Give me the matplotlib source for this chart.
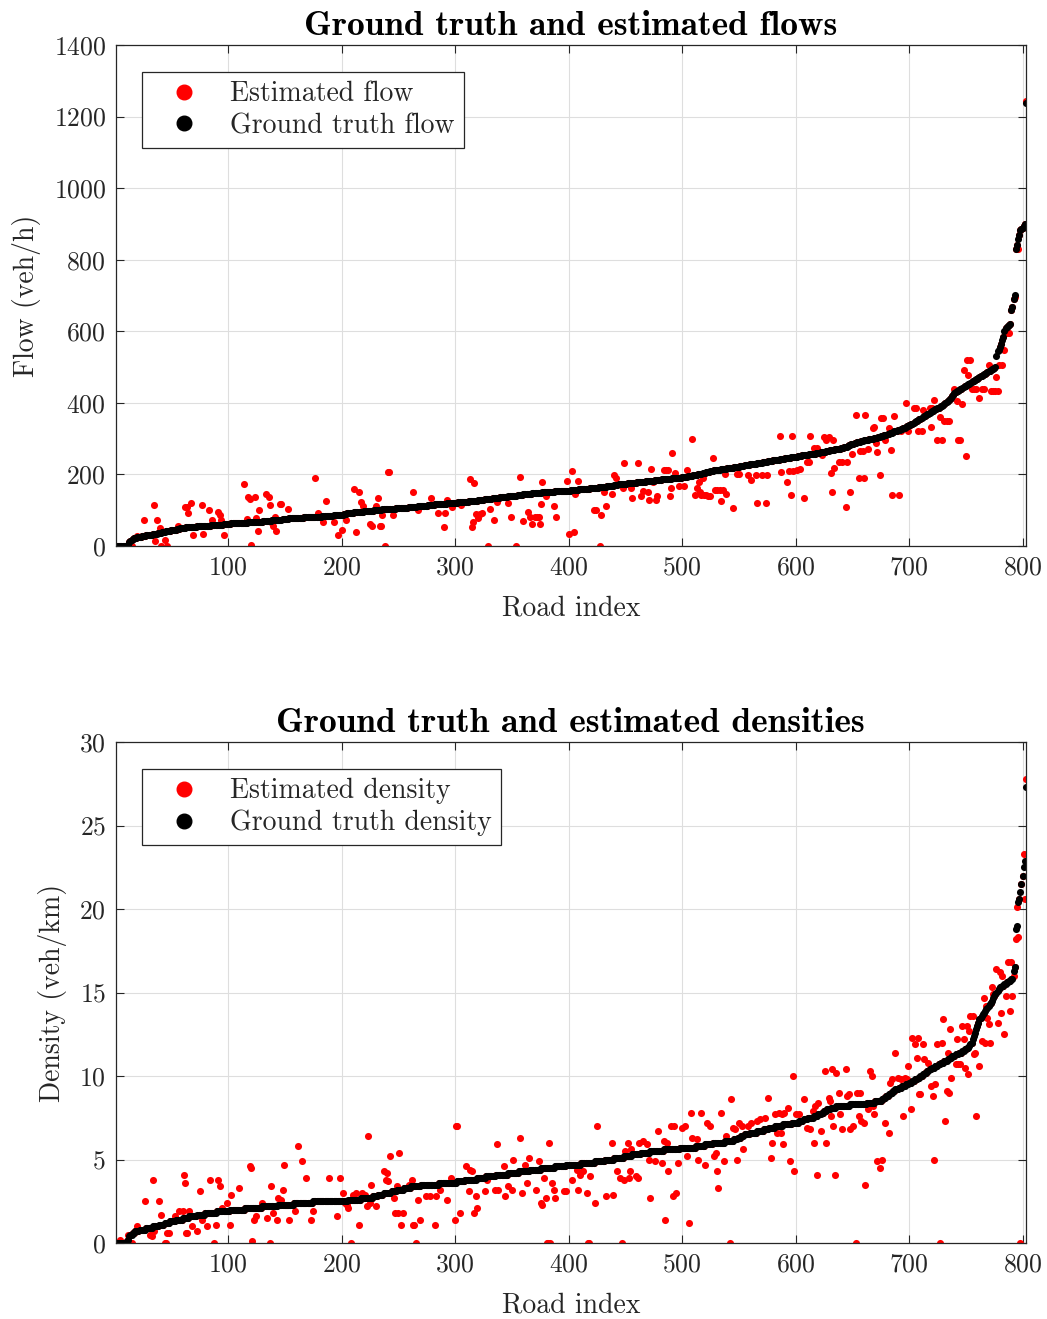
import numpy as np
import matplotlib
matplotlib.use("Agg")
import matplotlib.pyplot as plt
from matplotlib.lines import Line2D

plt.rcParams["font.family"] = ["cmr10", "DejaVu Sans"]
plt.rcParams["mathtext.fontset"] = "cm"
plt.rcParams["axes.formatter.use_mathtext"] = True

# ---------------- data ----------------
flow_gt = [
    0,0,0,0,0,0,0,0,0,0,0,4,10,14,17,19,21,22,23,24,
    25,25,26,27,28,28,29,30,30,31,31,32,32,33,33,34,34,35,35,36,
    37,38,39,40,41,42,42,43,43,44,45,45,46,46,47,48,48,49,50,50,
    51,51,52,52,52,53,53,53,54,54,54,54,55,55,55,55,55,56,56,56,
    56,57,57,57,58,58,58,58,59,59,59,60,60,60,60,61,61,61,62,62,
    62,62,63,63,63,63,64,64,64,64,64,65,65,65,65,65,65,66,66,66,
    66,66,66,66,67,67,67,68,68,68,69,69,69,70,70,70,71,71,72,72,
    72,73,73,73,74,74,74,75,75,75,76,76,76,77,77,77,78,78,78,78,
    78,79,79,79,79,79,80,80,80,80,80,80,80,81,81,81,81,81,82,82,
    82,82,83,83,83,84,84,84,84,85,85,85,86,86,86,86,87,87,87,88,
    88,89,89,90,91,91,92,92,93,93,94,94,94,95,95,95,96,96,96,97,
    97,97,98,98,98,99,99,99,100,100,100,100,101,101,101,102,102,102,102,103,
    103,103,103,104,104,104,104,105,105,105,105,106,106,106,106,107,107,107,108,108,
    108,109,109,110,110,110,111,111,111,112,112,112,113,113,113,114,114,114,115,115,
    115,116,116,116,117,117,117,117,118,118,118,118,119,119,119,120,120,120,120,121,
    121,121,122,122,122,123,123,123,124,124,124,125,125,125,126,126,126,127,127,128,
    128,128,129,129,129,130,130,131,131,132,132,132,133,133,134,134,135,135,135,136,
    136,137,137,137,138,138,139,139,139,140,140,141,141,141,142,142,143,143,143,144,
    144,144,145,145,146,146,146,147,147,147,148,148,148,149,149,149,150,150,150,151,
    151,151,151,152,152,152,152,153,153,153,153,154,154,154,154,154,155,155,155,155,
    155,156,156,156,157,157,157,157,158,158,158,159,159,159,159,160,160,160,161,161,
    161,162,162,163,163,163,164,164,165,165,166,166,166,167,167,168,168,169,169,170,
    170,170,171,172,172,172,173,173,173,174,174,175,175,175,176,176,177,177,177,178,
    178,178,179,179,180,180,180,181,181,182,182,182,183,183,183,184,184,184,185,185,
    185,186,186,186,187,187,187,188,188,188,189,189,189,190,190,190,191,191,191,192,
    192,193,193,194,195,195,196,196,197,198,198,199,199,200,200,201,202,203,204,205,
    206,207,208,208,209,210,210,211,211,212,212,213,213,214,214,215,215,216,216,217,
    217,218,218,219,219,220,220,221,221,222,223,223,224,224,225,225,226,227,227,228,
    228,229,229,230,230,231,232,232,233,233,234,234,235,236,236,237,237,238,238,239,
    239,240,240,241,241,242,243,243,244,244,245,245,246,246,247,248,248,249,249,250,
    250,251,251,252,252,253,253,254,254,255,255,256,256,257,257,258,258,259,260,261,
    261,262,262,263,264,264,265,266,266,267,267,268,269,269,270,270,271,272,272,273,
    274,275,276,277,278,280,281,282,284,285,286,288,289,290,291,292,292,293,294,295,
    295,296,297,297,298,299,300,300,301,302,303,303,304,305,306,307,308,309,310,311,
    312,313,315,316,317,319,320,321,322,323,324,325,326,328,329,331,333,334,336,338,
    339,341,342,344,346,348,350,352,354,356,358,360,362,364,366,368,370,373,375,377,
    378,380,382,384,385,387,389,390,392,395,397,400,402,405,407,410,414,418,423,428,
    430,432,434,436,438,440,442,444,446,447,449,452,454,456,458,460,462,464,466,468,
    470,472,474,476,478,480,482,484,486,488,490,492,494,496,498,500,530,545,548,555,
    565,575,585,600,610,613,615,617,620,660,668,690,700,830,840,858,870,882,886,888,
    893,900,1238,
]

# estimated flows that differ visibly from the ground truth: (road index, flow)
flow_est_points = [
    (15,0),(20,29),(26,73),(35,114),(36,15),(37,73),(40,51),(41,0),(44,17),(46,0),
    (56,56),(62,108),(64,108),(65,91),(67,121),(69,31),(77,115),(78,33),(83,101),(86,73),
    (91,96),(93,87),(94,73),(96,30),(114,173),(117,76),(118,138),(119,131),(120,2),(124,138),
    (125,77),(126,41),(127,101),(133,145),(136,138),(137,115),(138,68),(140,56),(141,80),(142,43),
    (146,117),(147,117),(153,103),(177,191),(179,91),(184,68),(186,127),(193,68),(197,31),(200,44),
    (204,73),(211,158),(213,38),(215,151),(217,123),(219,112),(225,61),(227,55),(230,112),(232,134),
    (234,55),(235,55),(236,86),(238,0),(241,208),(242,208),(245,88),(263,150),(267,101),(279,133),
    (285,91),(290,52),(291,91),(293,128),(297,108),(305,115),(313,187),(315,54),(316,67),(317,177),
    (318,90),(320,77),(322,89),(324,91),(329,0),(331,103),(334,73),(337,122),(347,119),(349,80),
    (354,0),(357,192),(360,71),(364,96),(366,82),(368,61),(370,82),(372,82),(374,82),(375,61),
    (376,117),(377,178),(380,140),(387,113),(389,80),(399,182),(400,33),(403,210),(405,40),(406,145),
    (408,182),(422,101),(424,101),(428,0),(429,87),(431,152),(433,112),(438,145),(440,198),(442,190),
    (448,163),(449,233),(455,163),(456,133),(461,233),(464,139),(466,154),(470,150),(471,128),(473,215),
    (474,179),(477,128),(478,139),(484,212),(486,212),(488,212),(489,139),(490,161),(491,259),(494,205),
    (497,167),(502,167),(504,212),(509,298),(511,143),(513,161),(515,180),(516,152),(517,143),(518,189),
    (519,143),(521,143),(523,140),(525,140),(527,245),(529,156),(531,156),(533,156),(534,126),(536,156),
    (538,200),(539,145),(545,105),(548,200),(550,200),(558,198),(561,184),(565,198),(566,121),(570,198),
    (574,121),(575,198),(586,307),(587,208),(592,180),(594,210),(596,142),(597,307),(598,210),(601,213),
    (604,215),(607,135),(610,235),(612,235),(613,307),(616,273),(619,273),(623,254),(625,305),(627,296),
    (629,305),(631,204),(632,152),(633,296),(634,218),(638,236),(641,236),(644,110),(645,236),(648,152),
    (650,257),(653,366),(656,189),(657,266),(659,266),(660,189),(661,366),(664,270),(668,330),(669,332),
    (671,287),(672,264),(674,198),(675,357),(677,357),(679,296),(682,330),(684,267),(685,142),(687,363),
    (691,142),(693,320),(697,400),(699,320),(704,385),(706,385),(708,320),(711,320),(712,380),(718,385),
    (719,333),(720,385),(722,408),(725,296),(727,360),(729,296),(731,350),(733,350),(735,350),(740,440),
    (742,405),(743,296),(745,296),(747,398),(748,492),(750,252),(751,520),(752,478),(754,520),(755,440),
    (757,440),(759,440),(762,414),(764,440),(766,440),(770,506),(772,434),(774,434),(776,434),(777,473),
    (778,434),(779,505),(782,505),(784,548),(786,594),(788,594),(793,697),(796,830),(799,885),(803,1243),
]

density_gt = [
    0,0,0,0,0,0,0,0,0,0,0.1,0.2,0.4,0.5,0.5,0.6,0.6,0.7,0.7,0.7,
    0.7,0.8,0.8,0.8,0.8,0.8,0.8,0.9,0.9,0.9,0.9,0.9,0.9,1.0,1.0,1.0,1.0,1.0,1.1,1.1,
    1.1,1.1,1.1,1.2,1.2,1.2,1.2,1.2,1.3,1.3,1.3,1.3,1.3,1.4,1.4,1.4,1.4,1.4,1.4,1.5,
    1.5,1.5,1.5,1.5,1.5,1.6,1.6,1.6,1.6,1.6,1.6,1.6,1.7,1.7,1.7,1.7,1.7,1.7,1.7,1.8,
    1.8,1.8,1.8,1.8,1.8,1.8,1.8,1.8,1.8,1.9,1.9,1.9,1.9,1.9,1.9,1.9,1.9,1.9,1.9,1.9,
    1.9,2.0,2.0,2.0,2.0,2.0,2.0,2.0,2.0,2.0,2.0,2.0,2.0,2.0,2.1,2.1,2.1,2.1,2.1,2.1,
    2.1,2.1,2.1,2.1,2.1,2.1,2.1,2.1,2.1,2.2,2.2,2.2,2.2,2.2,2.2,2.2,2.2,2.2,2.2,2.2,
    2.2,2.2,2.2,2.3,2.3,2.3,2.3,2.3,2.3,2.3,2.3,2.3,2.3,2.3,2.3,2.3,2.3,2.4,2.4,2.4,
    2.4,2.4,2.4,2.4,2.4,2.4,2.4,2.4,2.4,2.4,2.4,2.4,2.4,2.4,2.5,2.5,2.5,2.5,2.5,2.5,
    2.5,2.5,2.5,2.5,2.5,2.5,2.5,2.5,2.5,2.5,2.5,2.5,2.5,2.5,2.5,2.5,2.5,2.5,2.5,2.5,
    2.5,2.5,2.5,2.5,2.5,2.6,2.6,2.6,2.6,2.6,2.6,2.6,2.6,2.6,2.6,2.6,2.7,2.7,2.7,2.7,
    2.7,2.7,2.7,2.7,2.7,2.7,2.7,2.8,2.8,2.8,2.8,2.9,2.9,2.9,2.9,2.9,3.0,3.0,3.0,3.0,
    3.0,3.0,3.0,3.1,3.1,3.1,3.1,3.1,3.2,3.2,3.2,3.2,3.2,3.2,3.3,3.3,3.3,3.3,3.3,3.3,
    3.4,3.4,3.4,3.4,3.4,3.4,3.4,3.4,3.4,3.5,3.5,3.5,3.5,3.5,3.5,3.5,3.5,3.5,3.5,3.5,
    3.5,3.5,3.5,3.5,3.5,3.6,3.6,3.6,3.6,3.6,3.6,3.6,3.6,3.6,3.6,3.6,3.6,3.6,3.6,3.6,
    3.6,3.7,3.7,3.7,3.7,3.7,3.7,3.7,3.8,3.8,3.8,3.8,3.8,3.8,3.8,3.8,3.8,3.8,3.9,3.9,
    3.9,3.9,3.9,3.9,3.9,3.9,4.0,4.0,4.0,4.0,4.0,4.0,4.0,4.0,4.0,4.1,4.1,4.1,4.1,4.1,
    4.1,4.1,4.1,4.1,4.1,4.1,4.2,4.2,4.2,4.2,4.2,4.2,4.2,4.2,4.2,4.3,4.3,4.3,4.3,4.3,
    4.3,4.3,4.3,4.3,4.3,4.4,4.4,4.4,4.4,4.4,4.4,4.4,4.4,4.4,4.4,4.5,4.5,4.5,4.5,4.5,
    4.5,4.5,4.5,4.5,4.5,4.5,4.5,4.6,4.6,4.6,4.6,4.6,4.6,4.6,4.6,4.6,4.6,4.7,4.7,4.7,
    4.7,4.7,4.7,4.7,4.7,4.7,4.7,4.7,4.7,4.7,4.8,4.8,4.8,4.8,4.8,4.8,4.8,4.8,4.8,4.8,
    4.8,4.8,4.9,4.9,4.9,4.9,4.9,4.9,4.9,4.9,4.9,5.0,5.0,5.0,5.0,5.0,5.0,5.0,5.0,5.1,
    5.1,5.1,5.1,5.1,5.1,5.1,5.1,5.1,5.2,5.2,5.2,5.2,5.2,5.2,5.2,5.3,5.3,5.3,5.3,5.3,
    5.3,5.3,5.3,5.4,5.4,5.4,5.4,5.4,5.4,5.4,5.4,5.5,5.5,5.5,5.5,5.5,5.5,5.5,5.5,5.5,
    5.5,5.5,5.5,5.6,5.6,5.6,5.6,5.6,5.6,5.6,5.6,5.6,5.6,5.6,5.6,5.6,5.6,5.7,5.7,5.7,
    5.7,5.7,5.7,5.7,5.7,5.7,5.7,5.7,5.7,5.7,5.7,5.8,5.8,5.8,5.8,5.8,5.8,5.8,5.8,5.9,
    5.9,5.9,5.9,5.9,5.9,5.9,6.0,6.0,6.0,6.0,6.0,6.0,6.0,6.0,6.0,6.0,6.0,6.1,6.1,6.1,
    6.1,6.1,6.1,6.1,6.1,6.2,6.2,6.2,6.3,6.3,6.3,6.4,6.4,6.4,6.5,6.5,6.5,6.5,6.5,6.6,
    6.6,6.6,6.6,6.6,6.6,6.7,6.7,6.7,6.7,6.7,6.7,6.8,6.8,6.8,6.8,6.8,6.9,6.9,6.9,6.9,
    6.9,7.0,7.0,7.0,7.0,7.0,7.0,7.0,7.1,7.1,7.1,7.1,7.1,7.1,7.1,7.1,7.2,7.2,7.2,7.2,
    7.2,7.2,7.3,7.3,7.3,7.3,7.4,7.4,7.4,7.4,7.5,7.5,7.5,7.5,7.5,7.6,7.6,7.6,7.6,7.7,
    7.7,7.7,7.8,7.8,7.9,7.9,7.9,8.0,8.0,8.0,8.1,8.1,8.1,8.1,8.1,8.2,8.2,8.2,8.2,8.2,
    8.2,8.2,8.2,8.2,8.2,8.2,8.2,8.3,8.3,8.3,8.3,8.3,8.3,8.3,8.3,8.3,8.3,8.3,8.3,8.3,
    8.3,8.3,8.4,8.4,8.4,8.4,8.4,8.4,8.4,8.5,8.5,8.5,8.5,8.5,8.5,8.6,8.6,8.7,8.7,8.8,
    8.8,8.9,8.9,9.0,9.0,9.1,9.1,9.2,9.2,9.2,9.3,9.3,9.3,9.4,9.4,9.4,9.5,9.5,9.5,9.6,
    9.6,9.6,9.7,9.7,9.8,9.8,9.8,9.9,9.9,10.0,10.0,10.1,10.1,10.2,10.2,10.3,10.3,10.4,10.4,10.5,
    10.5,10.5,10.6,10.6,10.6,10.7,10.7,10.8,10.8,10.8,10.9,10.9,10.9,11.0,11.0,11.1,11.1,11.2,11.2,11.2,
    11.3,11.3,11.3,11.4,11.4,11.4,11.5,11.5,11.6,11.6,11.7,11.7,11.8,11.9,12.0,12.2,12.4,12.6,12.8,13.0,
    13.2,13.4,13.5,13.6,13.7,13.8,13.9,14.0,14.1,14.2,14.3,14.4,14.5,14.7,14.8,14.9,15.0,15.1,15.2,15.3,
    15.3,15.4,15.4,15.5,15.5,15.6,15.6,15.7,15.7,15.8,15.8,16.3,16.5,18.8,19.0,20.4,20.6,21.0,21.5,22.0,
    22.5,22.9,27.3,
]

# estimated densities that differ visibly from the ground truth: (road index, density)
density_est_points = [
    (5,0.2),(12,0.5),(15,0),(20,1.0),(27,2.5),(31,0.5),(33,0.4),(34,3.8),(35,0.7),(39,2.5),
    (41,1.7),(44,0),(45,0),(46,0.6),(48,0.6),(53,1.6),(57,1.9),(60,1.9),(61,4.1),(62,3.6),
    (63,0.6),(64,0.6),(66,1.9),(68,1.0),(73,0.7),(75,3.1),(77,1.4),(81,1.0),(84,3.8),(88,0),
    (89,1.1),(91,3.8),(93,3.4),(95,2.1),(99,2.4),(102,1.1),(103,2.9),(110,3.3),(119,4.6),(120,4.5),
    (121,0.1),(123,1.4),(125,1.6),(130,2.4),(134,1.5),(137,0),(138,3.4),(140,1.8),(143,1.4),(144,2.7),
    (147,2.6),(148,3.2),(149,4.7),(154,1.4),(159,1.9),(162,5.8),(165,4.9),(169,3.9),(173,1.4),(175,1.9),
    (189,3.9),(196,1.6),(199,3.9),(201,3.0),(203,2.4),(205,2.3),(206,2.1),(208,0),(210,2.9),(213,3.0),
    (215,1.1),(218,3.0),(221,2.9),(222,2.2),(223,6.4),(225,2.4),(226,3.5),(230,2.2),(237,4.3),(239,3.8),
    (240,4.2),(241,3.7),(243,5.2),(246,2.7),(247,1.8),(249,3.4),(250,1.8),(251,5.4),(252,1.1),(254,1.8),
    (259,3.5),(262,3.8),(263,1.1),(264,1.1),(266,0),(267,2.6),(269,1.4),(274,2.8),(278,2.8),(282,1.1),
    (283,2.8),(287,3.2),(293,2.6),(296,3.9),(300,1.4),(301,7.0),(302,7.0),(304,1.8),(310,4.6),(312,3.1),
    (313,4.4),(315,4.3),(317,1.8),(318,2.8),(319,2.1),(326,3.1),(328,3.8),(335,3.2),(337,5.9),(338,3.2),
    (343,4.6),(344,2.8),(347,3.4),(350,3.2),(351,5.0),(357,6.3),(359,3.0),(362,4.7),(363,3.6),(365,5.1),
    (371,3.2),(374,4.9),(376,2.4),(377,2.3),(378,3.9),(380,2.7),(381,0),(382,0),(383,6.0),(384,0),
    (385,3.6),(387,3.2),(388,2.7),(396,3.1),(398,3.1),(403,3.8),(407,4.4),(408,3.2),(410,4.1),(413,4.3),
    (416,3.0),(417,0),(418,0),(419,4.0),(423,2.4),(425,7.0),(433,2.8),(438,6.0),(439,2.9),(443,4.3),
    (445,3.9),(447,0),(449,3.8),(450,5.5),(452,6.0),(453,3.9),(454,4.3),(455,5.6),(459,4.0),(461,3.9),
    (462,6.0),(466,6.1),(469,5.9),(471,5.0),(472,2.7),(476,4.9),(479,6.7),(482,4.8),(484,6.1),(485,1.4),
    (487,6.0),(488,4.3),(490,7.0),(492,2.8),(493,7.0),(495,3.0),(496,4.8),(500,6.9),(503,7.0),(504,5.2),
    (506,1.2),(508,7.8),(509,6.3),(513,6.2),(514,5.0),(517,7.8),(520,4.7),(522,7.2),(525,7.0),(528,5.2),
    (530,5.4),(531,4.3),(532,3.3),(534,7.8),(537,4.9),(539,6.4),(542,0),(543,8.6),(545,6.9),(547,6.8),
    (548,5.0),(550,7.2),(553,7.0),(554,5.6),(558,7.0),(561,7.2),(566,7.3),(569,7.4),(573,7.5),(576,8.7),
    (578,5.1),(579,6.0),(582,7.7),(584,6.6),(585,7.8),(587,6.6),(588,7.7),(589,5.9),(590,7.8),(593,8.1),
    (595,4.9),(598,10.0),(599,4.3),(600,7.7),(603,7.7),(607,8.6),(610,6.9),(613,6.8),(615,7.9),(616,6.0),
    (617,8.2),(619,4.1),(620,8.4),(622,6.7),(626,10.3),(627,6.0),(629,8.7),(630,8.5),(631,7.6),(632,10.4),
    (633,7.0),(635,4.1),(636,10.2),(638,9.0),(639,7.7),(641,6.8),(644,10.4),(645,8.8),(647,8.9),(648,6.8),
    (651,7.0),(653,0),(654,9.0),(656,7.6),(657,9.0),(658,7.3),(660,7.2),(661,3.5),(664,8.0),(666,10.3),
    (667,10.0),(668,8.2),(669,7.7),(672,4.9),(674,4.5),(676,5.0),(679,7.2),(682,6.6),(683,9.6),(685,9.8),
    (688,11.4),(690,9.9),(693,9.8),(695,7.6),(696,9.9),(698,9.8),(699,10.6),(702,8.0),(703,12.3),(705,11.9),
    (707,11.1),(708,12.3),(709,8.9),(710,8.9),(712,11.9),(713,11.0),(717,10.8),(719,9.4),(721,8.8),(722,5.0),
    (723,9.5),(725,11.9),(727,0),(729,12.0),(730,13.4),(732,7.3),(733,9.1),(734,11.4),(735,9.0),(736,12.8),
    (737,9.9),(741,10.7),(742,12.2),(743,10.7),(745,10.7),(747,13.0),(748,12.2),(749,10.5),(751,13.0),(752,10.1),
    (753,12.7),(754,13.6),(756,13.6),(757,11.3),(758,11.4),(759,7.6),(762,10.6),(764,12.1),(765,13.6),(766,14.7),
    (767,12.0),(768,14.2),(769,13.5),(770,13.1),(771,12.0),(773,15.3),(774,14.9),(777,16.4),(778,13.2),(780,16.2),
    (781,13.8),(782,16.0),(784,12.5),(785,14.8),(787,16.8),(789,13.9),(790,16.8),(791,14.8),(792,16.0),(794,18.2),
    (795,20.1),(796,18.3),(797,20.6),(798,0),(800,22.0),(801,23.3),(802,20.6),(803,27.8),
]

x_ticks = [100, 200, 300, 400, 500, 600, 700, 800]
flow_ticks = [0, 200, 400, 600, 800, 1000, 1200, 1400]
density_ticks = [0, 5, 10, 15, 20, 25, 30]


def build(gt, pts):
    gt = np.asarray(gt, dtype=float)
    est = gt.copy()
    for i, v in pts:
        if 1 <= i <= len(est):
            est[i - 1] = v
    x = np.arange(1, len(gt) + 1)
    return x, gt, est


TXT = "#262626"
FIG_W, FIG_H = 1047, 1319
fig = plt.figure(figsize=(FIG_W / 100, FIG_H / 100), dpi=100)

L = 115.7 / FIG_W
W = (1026 - 115.7) / FIG_W
H = 501 / FIG_H
ax1 = fig.add_axes([L, 1 - 546 / FIG_H, W, H])
ax2 = fig.add_axes([L, 1 - 1243 / FIG_H, W, H])


def draw(ax, gt, pts, yticks, ylim, title, ylabel, lab_est, lab_gt, leg_anchor):
    x, g, e = build(gt, pts)
    ax.scatter(x, e, s=26, color="#ff0000", linewidths=0, zorder=3)
    ax.scatter(x, g, s=26, color="#000000", linewidths=0, zorder=4)
    ax.set_xlim(1, len(g))
    ax.set_ylim(*ylim)
    ax.set_xticks(x_ticks)
    ax.set_yticks(yticks)
    ax.grid(True, color="#dedede", linewidth=0.8)
    ax.set_axisbelow(True)
    ax.tick_params(direction="in", length=6, width=0.8, top=True, right=True,
                   labelsize=18.5, colors=TXT, pad=7)
    for sp in ax.spines.values():
        sp.set_color(TXT)
        sp.set_linewidth(0.9)
        sp.set_zorder(5)
    ax.set_title(title, family="cmb10", fontsize=25.5, color="black", pad=7)
    ax.set_xlabel("Road index", fontsize=20, color=TXT, labelpad=11)
    ax.set_ylabel(ylabel, fontsize=20, color=TXT, labelpad=9)
    handles = [
        Line2D([], [], ls="", marker="o", markersize=10.5, color="#ff0000", label=lab_est),
        Line2D([], [], ls="", marker="o", markersize=10.5, color="#000000", label=lab_gt),
    ]
    leg = ax.legend(handles=handles, loc="upper left", bbox_to_anchor=leg_anchor,
                    borderaxespad=0, fontsize=20, frameon=True, fancybox=False,
                    framealpha=1, edgecolor=TXT, handletextpad=0.5,
                    borderpad=0.32, labelspacing=0.2, handlelength=2.35)
    leg.get_frame().set_linewidth(0.9)
    for t in leg.get_texts():
        t.set_color(TXT)


draw(ax1, flow_gt, flow_est_points, flow_ticks, (0, 1400),
     "Ground truth and estimated flows", "Flow (veh/h)",
     "Estimated flow", "Ground truth flow", (0.029, 0.946))
draw(ax2, density_gt, density_est_points, density_ticks, (0, 30),
     "Ground truth and estimated densities", "Density (veh/km)",
     "Estimated density", "Ground truth density", (0.029, 0.946))

fig.savefig("out.png", dpi=100)
